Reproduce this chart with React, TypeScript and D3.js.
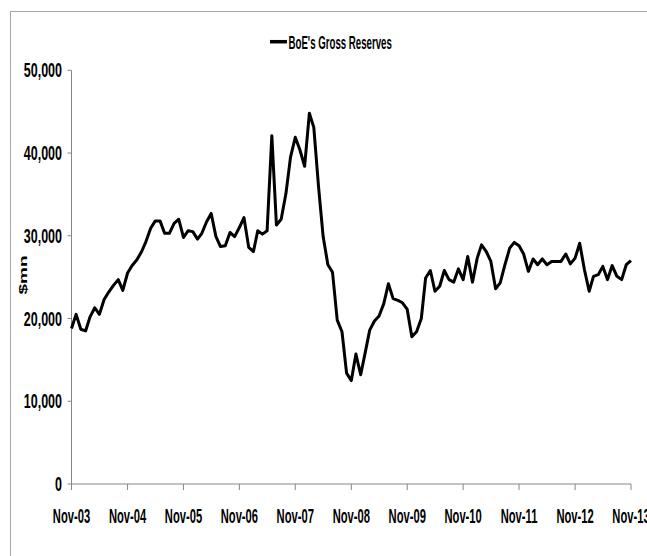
import * as d3 from "d3";

// BoE's gross reserves, $mn, monthly Nov-03 .. Nov-13
const reserves = [
  18800, 20500, 18700, 18500, 20200, 21300, 20500, 22300, 23200, 24000, 24700, 23400,
  25500, 26400, 27100, 28100, 29300, 30900, 31800, 31800, 30300, 30300, 31500, 32000,
  29800, 30600, 30500, 29600, 30300, 31700, 32700, 29900, 28700, 28800, 30400, 29900,
  31000, 32200, 28600, 28100, 30600, 30200, 30600, 42100, 31300, 32000, 35100, 39500,
  41900, 40400, 38400, 44800, 43100, 35900, 29900, 26500, 25600, 19800, 18400, 13400,
  12500, 15700, 13200, 16000, 18600, 19700, 20300, 21800, 24200, 22400, 22200, 21900,
  21100, 17800, 18400, 20000, 24900, 25800, 23300, 23900, 25800, 24700, 24400, 26000,
  24700, 27500, 24400, 27300, 28900, 28100, 26900, 23600, 24300, 26500, 28500, 29200,
  28800, 27800, 25700, 27200, 26500, 27200, 26500, 26900, 26900, 26900, 27800, 26600,
  27300, 29100, 25900, 23300, 25100, 25300, 26300, 24700, 26400, 25100, 24700, 26500,
  27000,
];
const xTickLabels = ["Nov-03", "Nov-04", "Nov-05", "Nov-06", "Nov-07", "Nov-08", "Nov-09", "Nov-10", "Nov-11", "Nov-12", "Nov-13"];
const yTicks = [0, 10000, 20000, 30000, 40000, 50000];
const seriesName = "BoE's Gross Reserves";
const yTitle = "$mn";

const W = 647;
const H = 556;
const font = "'Liberation Sans', Arial, sans-serif";
const axisColor = "#868686";

export default function App() {
  const start = new Date(2003, 10, 1);
  const dates = reserves.map((_, i) => d3.timeMonth.offset(start, i));
  const tickDates = xTickLabels.map((_, i) => d3.timeMonth.offset(start, i * 12));

  const x = d3.scaleTime().domain([start, dates[dates.length - 1]]).range([71.5, 631]);
  const y = d3.scaleLinear().domain([0, 50000]).range([484, 70.3]);

  const line = d3
    .line<number>()
    .x((_, i) => x(dates[i]))
    .y((d) => y(d));

  const fmt = d3.format(",");

  return (
    <svg
      width={W}
      height={H}
      viewBox={`0 0 ${W} ${H}`}
      style={{ position: "absolute", left: 0, top: 0, background: "#fff" }}
    >
      <rect x={10.5} y={11.5} width={W + 10} height={H + 10} fill="#fff" stroke="#a6a6a6" />

      {/* legend */}
      <line x1={270} x2={287} y1={41.7} y2={41.7} stroke="#000" strokeWidth={3.5} />
      <g transform="translate(288.5,49.3) scale(0.55,1)">
        <text fontFamily={font} fontWeight="bold" fontSize={17.6} fill="#000">
          {seriesName}
        </text>
      </g>

      {/* y axis */}
      <line x1={71.5} x2={71.5} y1={y(50000)} y2={490} stroke={axisColor} />
      {yTicks.map((t) => (
        <g key={t}>
          <line x1={67.5} x2={71.5} y1={y(t)} y2={y(t)} stroke={axisColor} />
          <g transform={`translate(62,${y(t) + 7}) scale(0.64,1)`}>
            <text textAnchor="end" fontFamily={font} fontWeight="bold" fontSize={19.5} fill="#000">
              {fmt(t)}
            </text>
          </g>
        </g>
      ))}
      <g transform="translate(27,275) scale(0.62,1) rotate(-90)">
        <text textAnchor="middle" fontFamily={font} fontWeight="bold" fontSize={19} fill="#000">
          {yTitle}
        </text>
      </g>

      {/* x axis */}
      <line x1={71.5} x2={631} y1={484} y2={484} stroke={axisColor} />
      {tickDates.map((d, i) => (
        <g key={xTickLabels[i]}>
          <line x1={x(d)} x2={x(d)} y1={484} y2={490} stroke={axisColor} />
          <g transform={`translate(${x(d)},522.7) scale(0.56,1)`}>
            <text textAnchor="middle" fontFamily={font} fontWeight="bold" fontSize={20} fill="#000">
              {xTickLabels[i]}
            </text>
          </g>
        </g>
      ))}

      <path d={line(reserves) ?? ""} fill="none" stroke="#000" strokeWidth={3} strokeLinejoin="round" />
    </svg>
  );
}
